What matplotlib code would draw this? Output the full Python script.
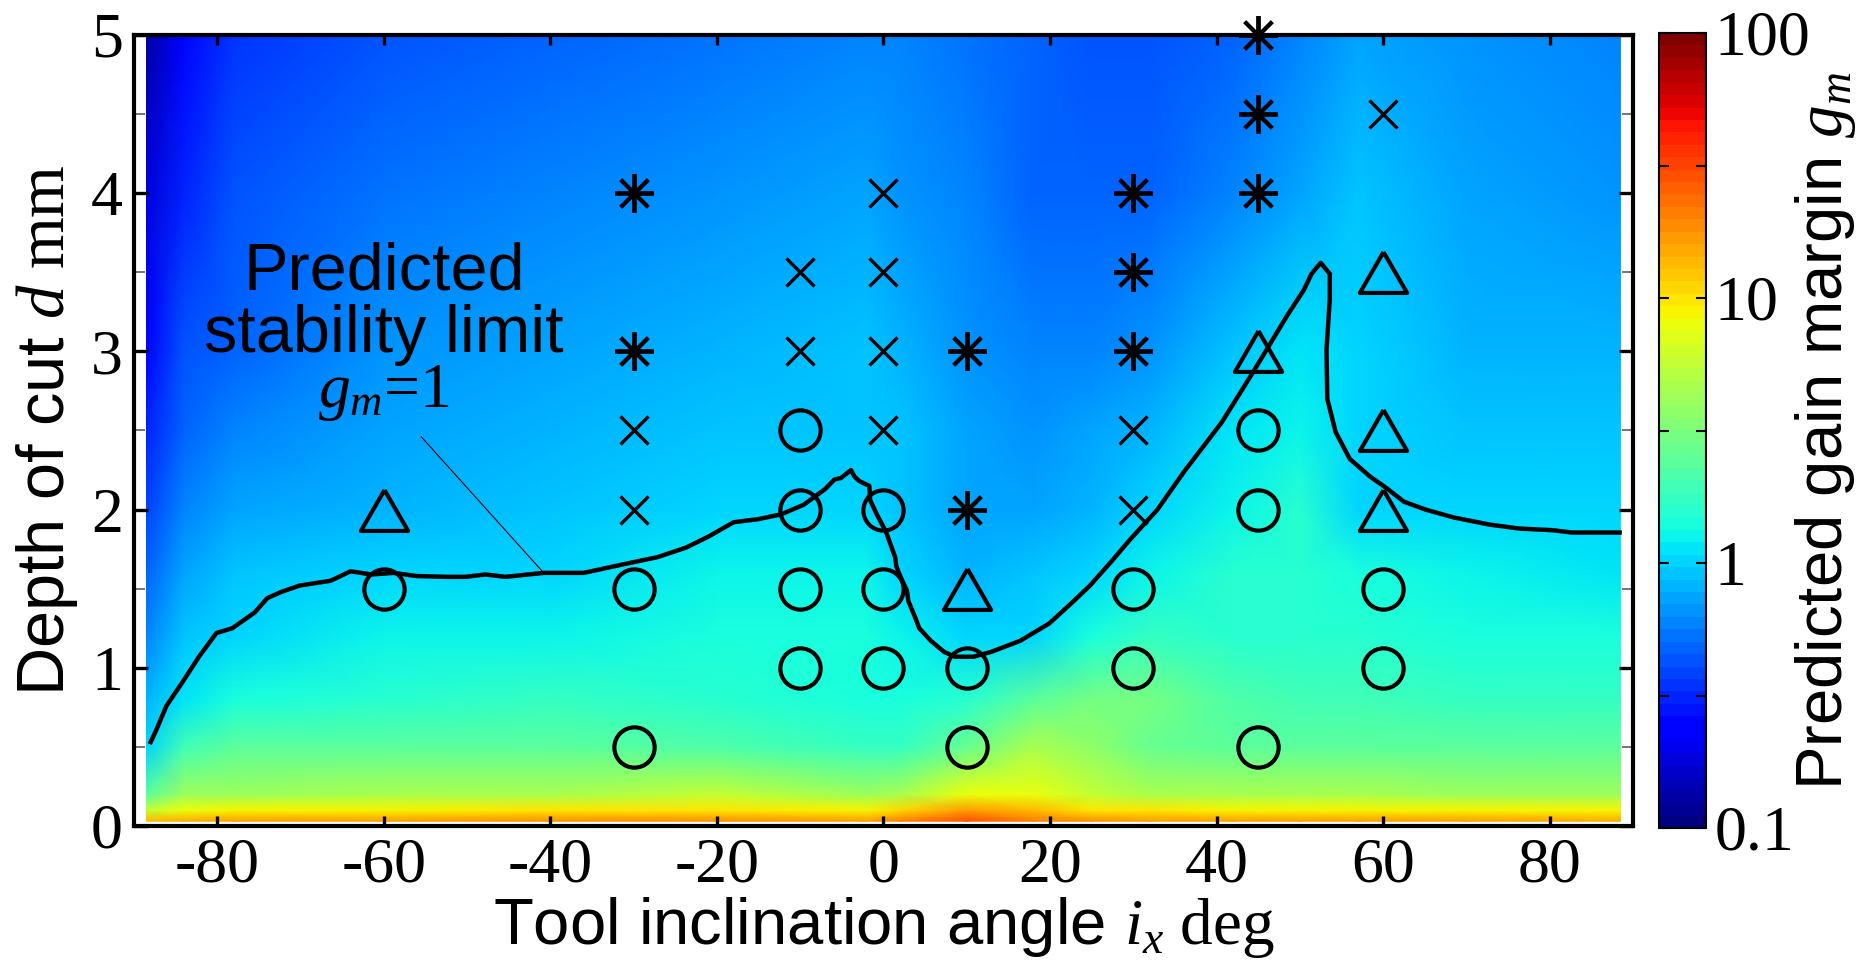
import numpy as np
import matplotlib
matplotlib.use('Agg')
import matplotlib.pyplot as plt
from matplotlib.colors import LogNorm
from matplotlib.cm import ScalarMappable
from matplotlib.ticker import FixedLocator, FixedFormatter, MultipleLocator

plt.rcParams['font.family'] = 'Liberation Serif'
plt.rcParams['mathtext.fontset'] = 'custom'
plt.rcParams['mathtext.rm'] = 'Liberation Serif'
plt.rcParams['mathtext.it'] = 'Liberation Serif:italic'
plt.rcParams['axes.unicode_minus'] = False

# ---- predicted gain margin map ----
gm_angle = [-88.5, -84, -78, -60, -40, -20, -2, 2, 10, 18, 25, 32, 42, 50, 57, 70, 88.5]
gm_depth = [0.03, 0.1, 0.2, 0.5, 0.8, 1.2, 1.6, 2.0, 2.5, 3.0, 4.0, 5.0]
gm_rows = [
    [13, 15, 16, 17, 18, 19, 17, 22, 30, 22, 19, 17, 16, 16, 16, 16, 15],
    [6, 8, 8.5, 9, 9.5, 10, 8.5, 11, 16, 13, 10, 9.5, 9, 9, 9, 8.5, 8.5],
    [2.5, 4.0, 4.2, 4.4, 4.8, 6.0, 4.0, 4.5, 7.5, 7.5, 5.5, 4.8, 4.4, 4.4, 4.4, 4.2, 4.0],
    [1.05, 2.0, 2.3, 2.5, 2.5, 2.2, 1.7, 1.8, 2.8, 4.5, 3.8, 2.8, 2.4, 2.4, 2.4, 2.4, 2.3],
    [0.85, 1.15, 1.45, 1.65, 1.7, 1.6, 1.4, 1.45, 1.5, 2.5, 3.0, 3.0, 2.2, 1.9, 1.85, 1.8, 1.75],
    [0.62, 0.88, 1.05, 1.25, 1.3, 1.35, 1.4, 1.25, 0.97, 1.05, 1.35, 1.7, 1.65, 1.65, 1.5, 1.45, 1.4],
    [0.48, 0.72, 0.88, 1.02, 1.03, 1.2, 1.25, 1.0, 0.85, 0.88, 0.98, 1.25, 1.5, 1.6, 1.35, 1.25, 1.15],
    [0.40, 0.60, 0.70, 0.86, 0.92, 0.98, 1.07, 0.93, 0.76, 0.74, 0.82, 1.0, 1.3, 1.5, 1.07, 1.0, 0.98],
    [0.32, 0.50, 0.60, 0.76, 0.82, 0.90, 0.96, 0.87, 0.71, 0.67, 0.70, 0.80, 1.1, 1.3, 0.97, 0.92, 0.89],
    [0.25, 0.41, 0.50, 0.64, 0.72, 0.81, 0.88, 0.82, 0.66, 0.60, 0.60, 0.68, 0.94, 1.1, 1.0, 0.86, 0.81],
    [0.18, 0.32, 0.41, 0.52, 0.58, 0.64, 0.70, 0.68, 0.57, 0.50, 0.46, 0.50, 0.60, 0.72, 0.92, 0.75, 0.68],
    [0.13, 0.25, 0.34, 0.44, 0.48, 0.54, 0.60, 0.60, 0.52, 0.46, 0.41, 0.42, 0.48, 0.57, 0.72, 0.63, 0.57],
]

# predicted stability limit g_m = 1 (angle deg, depth mm)
stability_limit = [
    (-88.0, 0.53), (-87.3, 0.61), (-86.1, 0.76), (-84.3, 0.90), (-82.2, 1.07), (-80.1, 1.22),
    (-78.2, 1.25), (-75.5, 1.35), (-74.0, 1.44), (-72.3, 1.48), (-70.1, 1.52), (-66.4, 1.55),
    (-64.0, 1.61), (-61.5, 1.59), (-58.8, 1.60), (-56.1, 1.58), (-52.4, 1.575), (-50.2, 1.575),
    (-47.8, 1.59), (-45.4, 1.575), (-40.8, 1.60), (-36.0, 1.60), (-32.5, 1.64), (-27.1, 1.70),
    (-23.7, 1.76), (-21.0, 1.83), (-18.0, 1.92), (-15.0, 1.94), (-12.3, 1.97), (-9.6, 2.03),
    (-7.0, 2.13), (-5.9, 2.19), (-5.1, 2.20), (-3.9, 2.25), (-3.5, 2.21), (-2.9, 2.18),
    (-1.7, 2.15), (-1.6, 2.06), (-0.8, 1.97), (0.3, 1.86), (0.85, 1.78), (1.4, 1.70),
    (1.55, 1.64), (2.05, 1.575), (2.8, 1.49), (3.0, 1.42), (3.8, 1.32), (4.3, 1.25),
    (5.7, 1.17), (7.3, 1.10), (8.6, 1.07), (10.8, 1.07), (12.9, 1.10), (16.4, 1.17),
    (19.9, 1.28), (22.6, 1.41), (24.8, 1.52), (27.5, 1.68), (29.6, 1.81), (32.9, 2.00),
    (36.1, 2.24), (40.6, 2.55), (44.4, 2.87), (48.4, 3.22), (50.5, 3.39), (51.4, 3.49),
    (52.5, 3.56), (53.6, 3.49), (53.6, 3.33), (53.2, 3.01), (53.3, 2.70), (54.3, 2.49),
    (56.0, 2.32), (58.4, 2.21), (60.3, 2.14), (62.5, 2.05), (65.1, 2.00), (68.5, 1.95),
    (72.8, 1.905), (76.4, 1.88), (80.3, 1.87), (82.7, 1.855), (88.4, 1.855),
]

# cutting tests (angle deg, depth mm)
circle_pts = [(-60, 1.5), (-30, 1.5), (-30, 0.5), (-10, 2.5), (-10, 2), (-10, 1.5), (-10, 1),
              (0, 2), (0, 1.5), (0, 1), (10, 1), (10, 0.5), (30, 1.5), (30, 1),
              (45, 2.5), (45, 2), (45, 0.5), (60, 1.5), (60, 1)]
triangle_pts = [(-60, 2), (10, 1.5), (45, 3), (60, 3.5), (60, 2.5), (60, 2)]
cross_pts = [(-30, 2.5), (-30, 2), (-10, 3.5), (-10, 3), (0, 4), (0, 3.5), (0, 3), (0, 2.5),
             (30, 2.5), (30, 2), (60, 4.5)]
star_pts = [(-30, 4), (-30, 3), (10, 3), (10, 2), (30, 4), (30, 3.5), (30, 3),
            (45, 5), (45, 4.5), (45, 4)]

cb_ticks = [0.1, 1, 10, 100]
cb_tick_labels = ['0.1', '1', '10', '100']
cb_minor = [0.316, 3.16, 31.6]

cmap = plt.get_cmap('jet', 64)

fig = plt.figure(figsize=(18.76, 9.76), dpi=100)
ax = fig.add_axes([0.07143, 0.15369, 0.7990, 0.81045])
cax = fig.add_axes([0.88433, 0.15164, 0.02505, 0.81455])

X, Y = np.meshgrid(gm_angle, gm_depth)
ax.pcolormesh(X, Y, np.log10(np.array(gm_rows)), cmap=cmap, vmin=-1, vmax=2,
              shading='gouraud', zorder=1)

sa, sd = zip(*stability_limit)
ax.plot(sa, sd, color='black', lw=3.2, zorder=3)

mk = dict(linestyle='none', color='black', markerfacecolor='none', zorder=4, clip_on=False)
tri = [(0, 0.866), (-1, -0.866), (1, -0.866), (0, 0.866)]
for pts, m, ms, mew in [(circle_pts, 'o', 29, 3.0), (triangle_pts, tri, 34, 3.0),
                        (cross_pts, 'x', 20, 2.4), (star_pts, (8, 2, 0), 28, 2.8)]:
    px, py = zip(*pts)
    ax.plot(px, py, marker=m, markersize=ms, markeredgewidth=mew, **mk)

# annotation
ax.text(-60, 3.3, 'Predicted\nstability limit', family='Liberation Sans', fontsize=48,
        ha='center', va='center', linespacing=1.0, zorder=5)
ax.text(-60, 2.74, r'$g_m$=1', family='Liberation Serif', fontsize=46,
        ha='center', va='center', zorder=5)
ax.plot([-55.5, -40.8], [2.46, 1.60], color='black', lw=0.8, zorder=5)

ax.set_xlim(-90, 90)
ax.set_ylim(0, 5)
ax.xaxis.set_major_locator(MultipleLocator(20))
ax.yaxis.set_major_locator(MultipleLocator(1))
ax.yaxis.set_minor_locator(MultipleLocator(0.5))
ax.tick_params(axis='both', which='major', direction='in', top=True, right=True,
               labelsize=46, width=2.4, pad=8)
ax.tick_params(axis='x', which='major', length=7)
ax.tick_params(axis='y', which='major', length=10)
ax.tick_params(axis='y', which='minor', direction='in', right=True, length=8,
               width=1.3, color='dimgray')
for s in ax.spines.values():
    s.set_linewidth(3)
    s.set_zorder(6)

ax.set_xlabel(r'Tool inclination angle $i_x\ \mathrm{deg}$', family='Liberation Sans',
              fontsize=47, labelpad=0)
ax.set_ylabel(r'Depth of cut $d\ \mathrm{mm}$', family='Liberation Sans',
              fontsize=48, labelpad=8)

sm = ScalarMappable(norm=LogNorm(0.1, 100), cmap=cmap)
cb = fig.colorbar(sm, cax=cax)
cb.outline.set_linewidth(1.5)
cax.yaxis.set_major_locator(FixedLocator(cb_ticks))
cax.yaxis.set_major_formatter(FixedFormatter(cb_tick_labels))
cax.yaxis.set_minor_locator(FixedLocator(cb_minor))
cax.tick_params(which='both', direction='in', left=True, right=True, length=7,
                width=1.5, labelsize=46, pad=6)
cb.set_label(r'Predicted gain margin $g_m$', family='Liberation Sans', fontsize=47,
             labelpad=-12)

fig.savefig('out.png', dpi=100)
